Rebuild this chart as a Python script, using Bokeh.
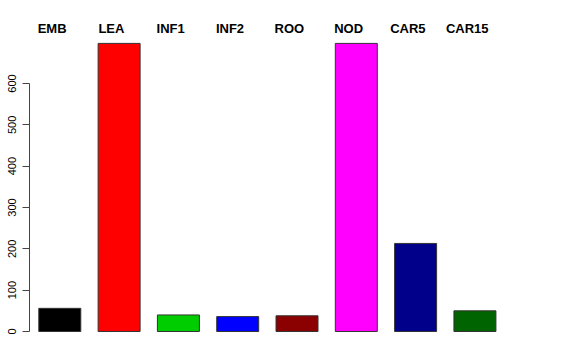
from bokeh.plotting import figure
from bokeh.models import ColumnDataSource, Range1d, FixedTicker
from bokeh.core.properties import value
from bokeh.embed import file_html
from bokeh.resources import INLINE

categories = ["EMB", "LEA", "INF1", "INF2", "ROO", "NOD", "CAR5", "CAR15"]
counts = [56, 697, 40, 36, 38, 697, 213, 50]
colors = ["#000000", "#FF0000", "#00CD00", "#0000FF", "#8B0000", "#FF00FF", "#00008B", "#006400"]
yticks = [0, 100, 200, 300, 400, 500, 600]

xs = list(range(1, len(categories) + 1))
src = ColumnDataSource(dict(x=xs, top=counts, color=colors, cat=categories,
                            lx=[v - 0.13 for v in xs], ly=[733] * len(xs)))

p = figure(frame_width=547, frame_height=325, output_backend="svg", toolbar_location=None,
           x_range=Range1d(0.489, 9.713), y_range=Range1d(-33.9, 752.4),
           min_border_left=29, min_border_right=0, min_border_top=20, min_border_bottom=15)

p.vbar(x="x", top="top", bottom=0, width=0.708, fill_color="color",
       line_color="#333333", line_width=1, source=src)

p.text(x="lx", y="ly", text="cat", source=src, text_align="center", text_baseline="middle",
       text_font=value("Liberation Sans"), text_font_style="bold", text_font_size="13px",
       text_color="black")

p.xaxis.visible = False
p.grid.visible = False
p.outline_line_color = None

ya = p.yaxis[0]
ya.ticker = FixedTicker(ticks=yticks)
ya.bounds = (0, 600)
ya.minor_tick_line_color = None
ya.major_tick_out = 7
ya.major_tick_in = 0
ya.major_label_orientation = "vertical"
ya.major_label_standoff = 6
ya.major_label_text_font = "Liberation Sans"
ya.major_label_text_font_size = "11px"
ya.major_label_text_color = "black"
ya.axis_line_color = "#444444"
ya.major_tick_line_color = "#444444"

open("out.html", "w").write(file_html(p, INLINE))
